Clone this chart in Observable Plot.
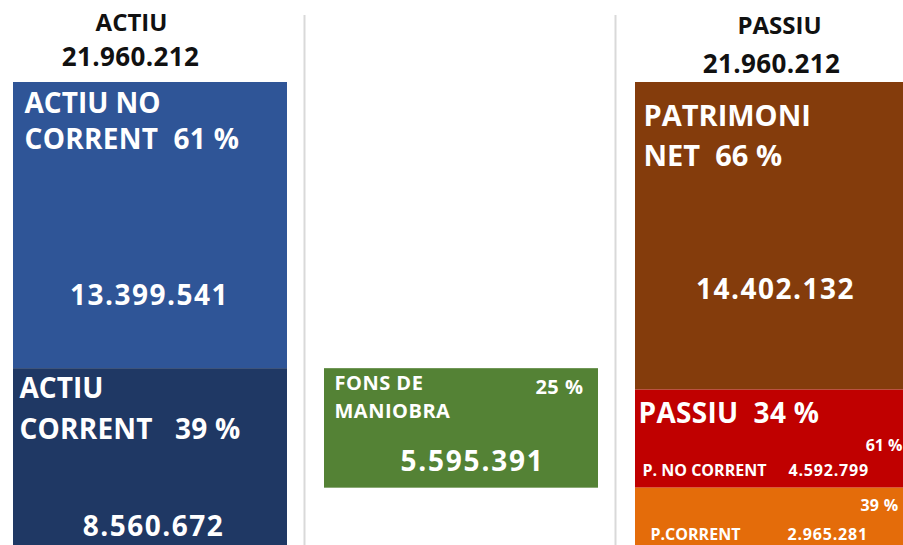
<!DOCTYPE html>
<html>
<head>
<meta charset="utf-8">
<script src="https://cdn.jsdelivr.net/npm/d3@7"></script>
<script src="https://cdn.jsdelivr.net/npm/@observablehq/plot@0.6"></script>
<style>
  html, body { margin: 0; padding: 0; background: #fff; overflow: hidden; }
  #chart svg { overflow: hidden; display: block; }
</style>
</head>
<body>
<div id="chart"></div>
<script>
// ---------- DATA ----------
const columns = ["ACTIU", "FONS", "PASSIU"];
const headerTitles = ["ACTIU", "PASSIU"];
const headerColumns = ["ACTIU", "PASSIU"];
const headerTotals = [21960212, 21960212];

const blockNames = ["ACTIU NO CORRENT", "ACTIU CORRENT", "FONS DE MANIOBRA", "PATRIMONI NET", "P. NO CORRENT", "P.CORRENT"];
const blockColumns = ["ACTIU", "ACTIU", "FONS", "PASSIU", "PASSIU", "PASSIU"];
const blockValues = [13399541, 8560672, 5595391, 14402132, 4592799, 2965281];
const blockPercents = [61, 39, 25, 66, 61, 39];
const passiuName = "PASSIU";
const passiuPercent = 34;

// ---------- STYLE ----------
const blockColors = ["#2F5597", "#1F3864", "#548235", "#843C0C", "#C00000", "#E46C0A"];
const FONT = "'Open Sans', 'Liberation Sans', sans-serif";

const fmt = d3.formatLocale({decimal: ",", thousands: ".", grouping: [3], currency: ["", ""]}).format(",d");
const pct = p => `${p} %`;

// block extents (stacked per column; working capital sits between
// the top of current assets and the top of current liabilities)
const total = headerTotals[0];
const starts = [];
{
  const cum = {};
  blockNames.forEach((n, i) => {
    const c = blockColumns[i];
    if (c === "FONS") {
      starts[i] = total - blockValues[1];
    } else {
      starts[i] = cum[c] || 0;
      cum[c] = starts[i] + blockValues[i];
    }
  });
}
const blocks = blockNames.map((name, i) => ({
  name, col: blockColumns[i], start: starts[i], end: starts[i] + blockValues[i],
  value: blockValues[i], pct: blockPercents[i], color: blockColors[i]
}));

const splitName = n => { const k = n.lastIndexOf(" "); return [n.slice(0, k), n.slice(k + 1)]; };

// ---------- LABEL LAYOUT (offsets from block top / column centre) ----------
const labels = [];
function add(col, yv, text, o) { labels.push({col, y: yv, text, ls: 0, ...o}); }

headerTitles.forEach((t, i) => {
  const c = headerColumns[i];
  const right = c === "PASSIU";
  add(c, 0, t, {dx: right ? 7 : -19, dy: right ? -49 : -52, size: 24, anchor: "middle", fill: "#111"});
  add(c, 0, fmt(headerTotals[i]), {dx: right ? -1 : -20, dy: right ? -10 : -17, size: 26, anchor: "middle", fill: "#111", ls: 0.4});
});

// Actiu no corrent
{ const b = blocks[0], [a, c] = splitName(b.name);
  add(b.col, b.start, a, {dx: -126, dy: 30, size: 28, anchor: "start"});
  add(b.col, b.start, `${c}  ${pct(b.pct)}`, {dx: -126, dy: 66, size: 28, anchor: "start", ls: 0.3});
  add(b.col, b.start, fmt(b.value), {dx: -1, dy: 222, size: 28, anchor: "middle", ls: 1.5}); }
// Actiu corrent
{ const b = blocks[1], [a, c] = splitName(b.name);
  add(b.col, b.start, a, {dx: -131, dy: 29, size: 28, anchor: "start"});
  add(b.col, b.start, `${c}   ${pct(b.pct)}`, {dx: -131, dy: 70, size: 28, anchor: "start", ls: 0.2});
  add(b.col, b.start, fmt(b.value), {dx: 3, dy: 167, size: 28, anchor: "middle", ls: 1.5}); }
// Fons de maniobra
{ const b = blocks[2], [a, c] = splitName(b.name);
  add(b.col, b.start, a, {dx: -127, dy: 21, size: 20, anchor: "start", ls: 0.5});
  add(b.col, b.start, c, {dx: -127, dy: 49, size: 20, anchor: "start", ls: 0.5});
  add(b.col, b.start, pct(b.pct), {dx: 122, dy: 25, size: 20, anchor: "end", ls: 0.5});
  add(b.col, b.start, fmt(b.value), {dx: 11, dy: 102, size: 28, anchor: "middle", ls: 1.8}); }
// Patrimoni net
{ const b = blocks[3], [a, c] = splitName(b.name);
  add(b.col, b.start, a, {dx: -129, dy: 43, size: 29, anchor: "start"});
  add(b.col, b.start, `${c}  ${pct(b.pct)}`, {dx: -129, dy: 83, size: 29, anchor: "start"});
  add(b.col, b.start, fmt(b.value), {dx: 3, dy: 216, size: 28, anchor: "middle", ls: 1.5}); }
// Passiu (exigible)
{ const b = blocks[4];
  add(b.col, b.start, `${passiuName}  ${pct(passiuPercent)}`, {dx: -134, dy: 33, size: 28, anchor: "start", ls: 0.3});
  add(b.col, b.start, pct(b.pct), {dx: 130, dy: 61, size: 16, anchor: "end"});
  add(b.col, b.start, b.name, {dx: -130, dy: 86, size: 16, anchor: "start"});
  add(b.col, b.start, fmt(b.value), {dx: 16, dy: 86, size: 16, anchor: "start", ls: 0.8}); }
{ const b = blocks[5];
  add(b.col, b.start, pct(b.pct), {dx: 126, dy: 23, size: 16, anchor: "end", ls: 0.3});
  add(b.col, b.start, b.name, {dx: -122, dy: 52, size: 16, anchor: "start"});
  add(b.col, b.start, fmt(b.value), {dx: 15, dy: 52, size: 16, anchor: "start", ls: 0.8}); }

const textMarks = labels.map(l => Plot.text([l], {
  x: "col", y: "y", text: "text", dx: l.dx, dy: l.dy,
  fontSize: l.size, fontWeight: "bold", fontFamily: FONT,
  textAnchor: l.anchor, lineAnchor: "bottom", fill: l.fill || "white"
}));

const chart = Plot.plot({
  width: 903,
  height: 545,
  marginTop: 15,
  marginBottom: 0,
  marginLeft: 0,
  marginRight: 0,
  style: {fontFamily: FONT, background: "white", overflow: "hidden"},
  x: {type: "band", domain: columns, range: [12, 909], paddingInner: 0.12, paddingOuter: 0, axis: null},
  y: {domain: [0, total], range: [82, 551], axis: null},
  color: {type: "identity"},
  marks: [
    Plot.ruleX(columns.slice(1), {x: d => d, dx: -157, stroke: "#d9d9d9", strokeWidth: 2}),
    Plot.barY(blocks, {x: "col", y1: "start", y2: "end", fill: "color", inset: 0}),
    ...textMarks
  ]
});
// letter spacing per label (text elements are rendered in label order)
const textEls = chart.querySelectorAll("text");
labels.forEach((l, i) => {
  if (l.ls && textEls[i]) textEls[i].setAttribute("letter-spacing", `${l.ls}`);
});
document.getElementById("chart").appendChild(chart);
</script>
</body>
</html>
